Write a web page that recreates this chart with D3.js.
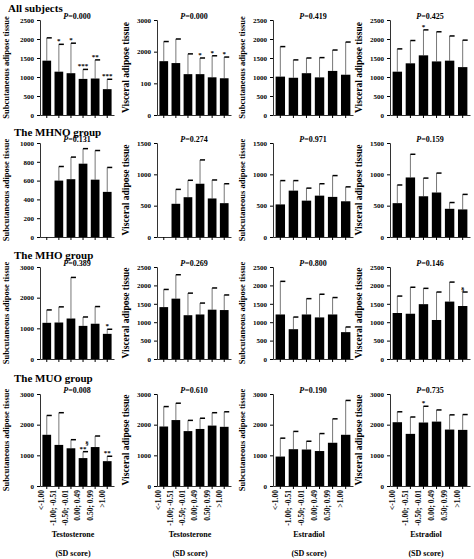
<!DOCTYPE html>
<html><head><meta charset="utf-8">
<script src="https://cdn.jsdelivr.net/npm/d3@7"></script>
<style>body{margin:0;background:#fff}text{font-family:"Liberation Serif","Times New Roman",serif;font-weight:bold}</style>
</head><body><svg id="c" width="474" height="559"></svg>
<script>
const categories = ["<-1.00","-1.00; -0.51","-0.50; -0.01","0.00; 0.49","0.50; 0.99",">1.00"];
const rowTitles = ["All subjects","The MHNO group","The MHO group","The MUO group"];
const yLabels = ["Subcutaneous adipose tissue","Visceral adipose tissue","Subcutaneous adipose tissue","Visceral adipose tissue"];
const xTitles = ["Testosterone","Testosterone","Estradiol","Estradiol"];
// per panel: [row][col]
const pValues = [["0.000","0.000","0.419","0.425"],["0.131","0.274","0.971","0.159"],["0.389","0.269","0.800","0.146"],["0.008","0.610","0.190","0.735"]];
const yMax = [[2500,3000,2500,2500],[1000,1500,1500,1500],[3000,2500,2500,2500],[3000,3000,3000,3000]];
const yTicks = [[[0,500,1000,1500,2000,2500],[0,1000,2000,3000],[0,500,1000,1500,2000,2500],[0,500,1000,1500,2000,2500]],
  [[0,200,400,600,800,1000],[0,500,1000,1500],[0,500,1000,1500],[0,500,1000,1500]],
  [[0,1000,2000,3000],[0,500,1000,1500,2000,2500],[0,500,1000,1500,2000,2500],[0,500,1000,1500,2000,2500]],
  [[0,1000,2000,3000],[0,1000,2000,3000],[0,1000,2000,3000],[0,1000,2000,3000]]];
const tickText = {"0-1-1000":"100"}; // as printed in the source figure
const means = [
  [[1430,1140,1100,950,960,680],[1700,1640,1290,1290,1190,1160],[1010,980,1100,990,1160,1060],[1140,1360,1570,1410,1430,1260]],
  [[0,600,615,780,610,480],[0,530,635,850,615,540],[520,740,580,660,640,570],[540,950,650,710,450,440]],
  [[1180,1190,1320,1080,1150,820],[1410,1640,1190,1210,1340,1330],[1210,810,1210,1130,1210,730],[1250,1230,1490,1060,1560,1440]],
  [[1670,1340,1230,910,1270,810],[1940,2150,1790,1860,1970,1930],[960,1200,1190,1140,1410,1670],[2080,1700,2070,2100,1840,1830]]];
const errTops = [
  [[2030,1860,1890,1200,1450,940],[2320,2400,1930,1800,1870,1830],[1800,1450,1500,1510,1710,1920],[1740,1960,2240,2190,2080,1970]],
  [[0,750,850,940,920,740],[0,760,905,1230,910,850],[900,900,780,850,980,800],[830,1320,940,1020,550,680]],
  [[1600,1700,2660,1370,1710,970],[1890,2290,1790,1520,1930,1740],[2110,1140,1640,1760,1670,870],[1710,1950,1920,1820,2090,1820]],
  [[2300,2390,1510,1120,1630,970],[2590,2700,2140,2210,2390,2420],[1560,1780,1460,1710,2190,2790],[2420,2250,2600,2480,2320,2330]]];
const marks = [
  [["","*","*","***","**","***"],["","","","*","*","*"],["","","","","",""],["","","*","","",""]],
  [["","","","","",""],["","","","","",""],["","","","","",""],["","","","","",""]],
  [["","","","","","*"],["","","","","",""],["","","","","",""],["","","","","","§"]],
  [["","","","§\n**","","**"],["","","","","",""],["","","","","",""],["","","*","","",""]]];

const svg = d3.select("#c");
const colX = [40,157,273,390], plotW = [74,74,80,80];
const rowTop = [20,143,267,394], rowBot = [115,237,359,486];
const titleY = [12,136,259,382];

rowTitles.forEach((t,r)=>svg.append("text").attr("x",r===0?8:14).attr("y",titleY[r]).attr("font-size",11).text(t));

for (let r=0;r<4;r++) for (let c=0;c<4;c++) {
  const g = svg.append("g").attr("transform",`translate(${colX[c]},0)`);
  const x = d3.scaleBand().domain(categories).range([0,plotW[c]]).paddingInner(0.28).paddingOuter(0.2);
  const y = d3.scaleLinear().domain([0,yMax[r][c]]).range([rowBot[r],rowTop[r]]);
  const ya = g.append("g").call(d3.axisLeft(y).tickValues(yTicks[r][c]).tickSize(3)
      .tickFormat(v=>tickText[`${r}-${c}-${v}`]||v));
  ya.selectAll("text").attr("font-size",7).attr("fill","#000");
  ya.select(".domain").attr("stroke","#333");
  const xa = g.append("g").attr("transform",`translate(0,${rowBot[r]})`)
      .call(d3.axisBottom(x).tickSize(3).tickSizeOuter(0));
  xa.select(".domain").attr("stroke","#333");
  xa.selectAll("text").attr("font-size",7.5).attr("fill","#000")
    .style("display", r===3?null:"none")
    .attr("transform","rotate(-90)").attr("text-anchor","end").attr("dx","-4").attr("dy","-0.35em").attr("y",0).attr("x",0);
  const data = categories.map((k,i)=>({k,m:means[r][c][i],e:errTops[r][c][i],s:marks[r][c][i]})).filter(d=>d.m>0);
  const cx = d=>x(d.k)+x.bandwidth()/2;
  g.selectAll(".eb").data(data).join("line").attr("x1",cx).attr("x2",cx).attr("y1",d=>y(d.m)).attr("y2",d=>y(d.e)).attr("stroke","#777").attr("stroke-width",1);
  g.selectAll(".cap").data(data).join("line").attr("x1",d=>cx(d)).attr("x2",d=>cx(d)+5).attr("y1",d=>y(d.e)).attr("y2",d=>y(d.e)).attr("stroke","#000").attr("stroke-width",1.5);
  g.selectAll(".bar").data(data).join("rect").attr("x",d=>x(d.k)).attr("width",x.bandwidth()).attr("y",d=>y(d.m)).attr("height",d=>rowBot[r]-y(d.m)).attr("fill","#000");
  data.filter(d=>d.s).forEach(d=>{
    d.s.split("\n").reverse().forEach((s,j)=>g.append("text").attr("x",cx(d)+(j?4:0)).attr("y",y(d.e)-1-j*6).attr("text-anchor","middle").attr("font-size",7).text(s));
  });
  const pt = g.append("text").attr("x",plotW[c]/2).attr("y",rowTop[r]-1).attr("text-anchor","middle").attr("font-size",8);
  pt.append("tspan").attr("font-style","italic").text("P");
  pt.append("tspan").text("=" + pValues[r][c]);
  g.append("text").attr("transform",`translate(${c===0?-31:-28},${(rowTop[r]+rowBot[r])/2}) rotate(-90)`)
    .attr("text-anchor","middle").attr("font-size",c%2?9.5:8.5).text(yLabels[c]);
  if (r===3) {
    g.append("text").attr("x",plotW[c]/2-4).attr("y",537).attr("text-anchor","middle").attr("font-size",8).text(xTitles[c]);
    g.append("text").attr("x",plotW[c]/2-4).attr("y",556).attr("text-anchor","middle").attr("font-size",8).text("(SD score)");
  }
}
</script></body></html>
